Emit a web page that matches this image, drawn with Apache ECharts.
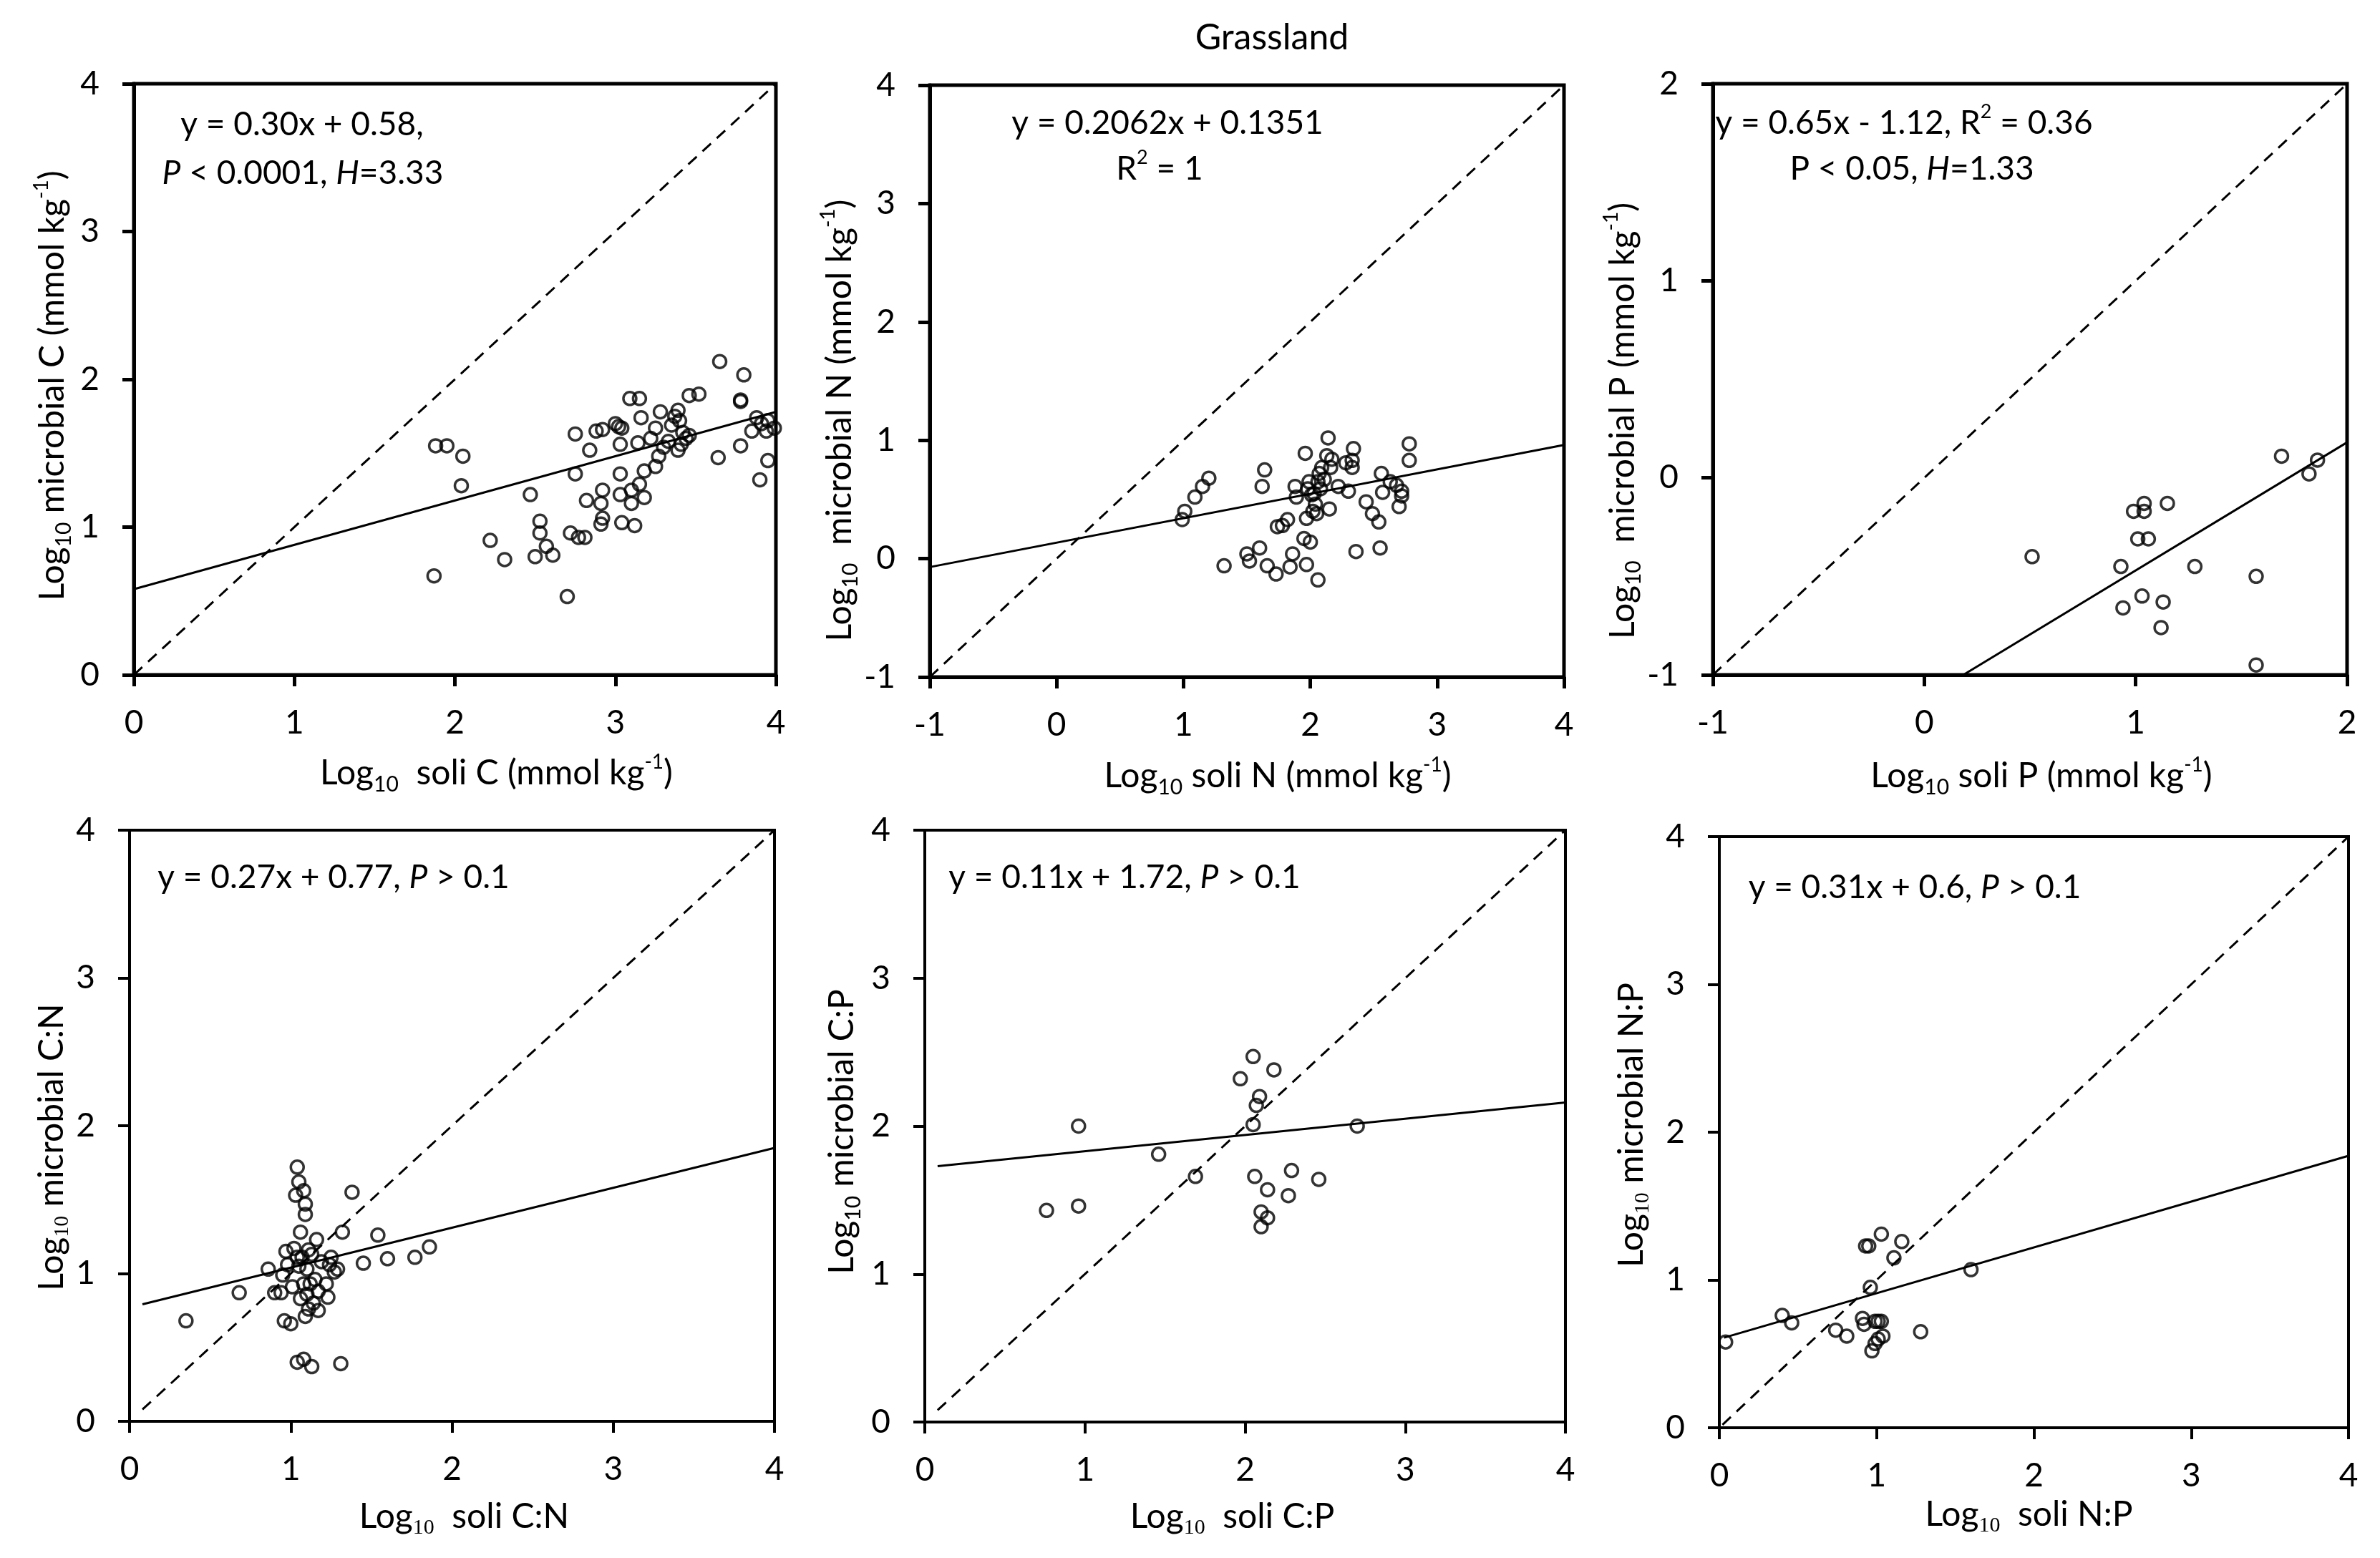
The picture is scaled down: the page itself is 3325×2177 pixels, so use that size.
<!DOCTYPE html>
<html><head><meta charset="utf-8">
<script src="https://cdn.jsdelivr.net/npm/echarts@6/dist/echarts.min.js"></script>
<style>html,body{margin:0;padding:0;background:#fff}#c{width:3325px;height:2177px}</style>
</head><body><div id="c"></div>
<script>
// ---------- data ----------
const soilC = [1.88,1.95,2.05,2.04,1.87,2.22,2.31,2.47,2.53,2.53,2.50,2.57,2.61,2.70,2.72,2.77,2.81,2.75,2.75,2.84,2.82,2.88,2.92,2.91,2.92,2.91,2.92,3.00,3.02,3.04,3.03,3.03,3.03,3.04,3.10,3.10,3.12,3.09,3.15,3.16,3.14,3.15,3.18,3.18,3.22,3.25,3.25,3.28,3.27,3.30,3.33,3.35,3.37,3.39,3.40,3.39,3.41,3.42,3.44,3.46,3.52,3.65,3.64,3.78,3.78,3.78,3.80,3.85,3.88,3.91,3.90,3.95,3.95,3.94,3.99,3.46];
const microbialC = [1.55,1.55,1.48,1.28,0.67,0.91,0.78,1.22,1.04,0.96,0.80,0.87,0.81,0.53,0.96,0.93,0.93,1.63,1.36,1.52,1.18,1.65,1.66,1.16,1.25,1.02,1.06,1.70,1.68,1.67,1.56,1.36,1.22,1.03,1.25,1.16,1.01,1.87,1.87,1.74,1.57,1.29,1.20,1.38,1.60,1.41,1.67,1.78,1.48,1.54,1.58,1.69,1.75,1.79,1.72,1.52,1.56,1.64,1.60,1.89,1.90,2.12,1.47,1.85,1.86,1.55,2.03,1.65,1.74,1.70,1.32,1.45,1.72,1.65,1.67,1.62];

const soilN = [0.99,1.01,1.09,1.15,1.20,1.32,1.50,1.52,1.60,1.64,1.62,1.66,1.73,1.74,1.78,1.82,1.84,1.86,1.88,1.89,1.95,1.96,1.97,1.97,1.98,1.99,2.00,2.01,2.02,2.03,2.04,2.06,2.05,2.06,2.07,2.08,2.09,2.11,2.13,2.14,2.15,2.16,2.17,2.22,2.28,2.30,2.33,2.34,2.33,2.36,2.44,2.49,2.54,2.55,2.56,2.57,2.63,2.68,2.70,2.72,2.78,2.78,2.72];
const microbialN = [0.33,0.40,0.52,0.61,0.68,-0.06,0.04,-0.02,0.09,0.75,0.61,-0.06,-0.13,0.27,0.28,0.33,-0.07,0.04,0.61,0.52,0.17,0.89,-0.05,0.34,0.59,0.65,0.14,0.54,0.40,0.55,0.46,-0.18,0.38,0.65,0.72,0.59,0.77,0.67,0.87,1.02,0.42,0.77,0.84,0.61,0.81,0.57,0.77,0.93,0.83,0.06,0.48,0.38,0.31,0.09,0.72,0.56,0.65,0.62,0.44,0.57,0.97,0.83,0.53];

const soilP = [0.51,0.93,0.94,0.99,1.04,1.04,1.01,1.06,1.03,1.12,1.13,1.15,1.28,1.57,1.57,1.69,1.82,1.86];
const microbialP = [-0.40,-0.45,-0.66,-0.17,-0.13,-0.17,-0.31,-0.31,-0.60,-0.76,-0.63,-0.13,-0.45,-0.50,-0.95,0.11,0.02,0.09];

const soilCN = [0.35,0.68,0.86,0.90,0.94,0.95,0.97,0.96,1.00,0.98,1.01,1.02,1.03,1.04,1.04,1.04,1.05,1.05,1.06,1.06,1.07,1.08,1.08,1.08,1.09,1.09,1.09,1.10,1.10,1.11,1.11,1.12,1.13,1.13,1.14,1.15,1.16,1.17,1.17,1.19,1.22,1.23,1.24,1.25,1.27,1.29,1.31,1.32,1.38,1.45,1.54,1.60,1.77,1.86];
const microbialCN = [0.68,0.87,1.03,0.87,0.87,0.99,1.15,0.68,0.66,1.06,0.91,1.17,1.53,1.72,0.40,1.11,1.62,1.05,1.28,0.83,1.11,0.42,0.93,1.56,1.40,1.47,0.71,0.86,1.03,1.16,0.76,0.93,0.37,1.13,0.80,0.96,1.23,0.75,0.88,1.08,0.93,0.84,1.06,1.11,1.01,1.03,0.39,1.28,1.55,1.07,1.26,1.10,1.11,1.18];

const soilCP = [0.76,0.96,0.96,1.46,1.69,1.97,2.05,2.18,2.09,2.07,2.05,2.06,2.14,2.10,2.14,2.10,2.27,2.29,2.46,2.70];
const microbialCP = [1.43,2.00,1.46,1.81,1.66,2.32,2.47,2.38,2.20,2.14,2.01,1.66,1.57,1.42,1.38,1.32,1.53,1.70,1.64,2.00];

const soilNP = [0.04,0.40,0.46,0.74,0.81,0.91,0.92,0.93,0.95,0.96,0.97,0.99,1.01,0.99,1.01,1.03,1.04,1.03,1.11,1.16,1.28,1.60];
const microbialNP = [0.58,0.76,0.71,0.66,0.62,0.74,0.70,1.23,1.23,0.95,0.52,0.72,0.72,0.57,0.60,0.72,0.62,1.31,1.15,1.26,0.65,1.07];

// regression lines (from the printed equations) and 1:1 lines
const fitSlope     = [0.30, 0.2062, 0.65, 0.27, 0.11, 0.31];
const fitIntercept = [0.58, 0.1351, -1.12, 0.77, 1.72, 0.6];
const fitStart     = [0, -1, -1, 0.08, 0.08, 0.03];
const diagStart    = [0, -1, -1, 0.08, 0.08, 0.02];

// axis ranges
const axisMin = [0, -1, -1, 0, 0, 0];
const axisMax = [4, 4, 2, 4, 4, 4];

// texts
const chartTitle = 'Grassland';
const xNames = [
  'Log{sub|10}  soli C (mmol kg{sup|-1})',
  'Log{sub|10} soli N (mmol kg{sup|-1})',
  'Log{sub|10} soli P (mmol kg{sup|-1})',
  'Log{subs|10}  soli C:N',
  'Log{subs|10}  soli C:P',
  'Log{subs|10}  soli N:P'
];
const yNames = [
  'Log{sub|10} microbial C (mmol kg{sup|-1})',
  'Log{sub|10}  microbial N (mmol kg{sup|-1})',
  'Log{sub|10}  microbial P (mmol kg{sup|-1})',
  'Log{subs|10} microbial C:N',
  'Log{sub|10} microbial C:P',
  'Log{subs|10} microbial N:P'
];
const annotations = [
  ['y = 0.30x + 0.58,', '{i|P} < 0.0001, {i|H}=3.33'],
  ['y = 0.2062x + 0.1351', 'R{sup|2} = 1'],
  ['y = 0.65x - 1.12, R{sup|2} = 0.36', 'P < 0.05, {i|H}=1.33'],
  ['y = 0.27x + 0.77, {i|P} > 0.1'],
  ['y = 0.11x + 1.72, {i|P} > 0.1'],
  ['y = 0.31x + 0.6, {i|P} > 0.1']
];

const xs = [soilC, soilN, soilP, soilCN, soilCP, soilNP];
const ys = [microbialC, microbialN, microbialP, microbialCN, microbialCP, microbialNP];

// ---------- layout ----------
const grids = [
  {left: 187, top: 117, right: 1084, bottom: 943},
  {left: 1299, top: 119, right: 2185, bottom: 946},
  {left: 2393, top: 117, right: 3279, bottom: 943},
  {left: 181, top: 1160, right: 1082, bottom: 1986},
  {left: 1292, top: 1160, right: 2187, bottom: 1987},
  {left: 2402, top: 1169, right: 3281, bottom: 1995}
];
const bw = [5, 5, 5, 4, 4, 4];
const xGap = [108, 109, 112, 104, 103, 92];
const xShift = [58, 43, 16, 17, -18, -7];
const yGap = [83, 82, 73, 77, 85, 92];
const yShift = [9, 55, 58, 30, 8, -10]; // positive = downward
const annPos = [
  [[422, 174], [423, 242]],
  [[1631, 172], [1620, 236]],
  [[2660, 172], [2671, 236]],
  [[466, 1226]],
  [[1571, 1226]],
  [[2675, 1240]]
];

const FONT = 'Lato, "Open Sans", "Noto Sans", sans-serif';
const SERIF = '"Liberation Serif", "DejaVu Serif", serif';
const FS = 48;
const AFS = 46;

function richAxis() {
  return {
    sub:  {fontFamily: FONT, fontSize: 30, lineHeight: 30, verticalAlign: 'bottom', color: '#000'},
    subs: {fontFamily: SERIF, fontSize: 30, lineHeight: 30, verticalAlign: 'bottom', color: '#000'},
    sup:  {fontFamily: FONT, fontSize: 28, lineHeight: 28, verticalAlign: 'top', color: '#000'}
  };
}
function richGraphic() {
  return {
    sub: {fontFamily: FONT, fontSize: 29, lineHeight: 29, verticalAlign: 'bottom', fill: '#000'},
    sup: {fontFamily: FONT, fontSize: 27, lineHeight: 27, verticalAlign: 'top', fill: '#000'},
    i:   {fontFamily: FONT, fontSize: AFS, lineHeight: 58, fontStyle: 'italic', fill: '#000'}
  };
}
function padShift(d) { return d >= 0 ? [0, 0, 0, 2 * d] : [0, -2 * d, 0, 0]; }
function padShiftY(d) { return d >= 0 ? [0, 2 * d, 0, 0] : [0, 0, 0, -2 * d]; }

const option = {
  backgroundColor: '#fff',
  animation: false,
  grid: [], xAxis: [], yAxis: [], series: [], graphic: []
};

grids.forEach((g, k) => {
  option.grid.push({
    left: g.left, top: g.top, width: g.right - g.left, height: g.bottom - g.top,
    show: true, borderColor: '#000', borderWidth: bw[k], backgroundColor: 'transparent',
    containLabel: false, outerBoundsMode: 'none'
  });
  const axisCommon = {
    gridIndex: k, type: 'value', min: axisMin[k], max: axisMax[k], interval: 1,
    splitLine: {show: false},
    axisLine: {show: true, onZero: false, lineStyle: {color: '#000', width: bw[k]}},
    axisTick: {show: true, inside: false, length: 16, lineStyle: {color: '#000', width: bw[k]}},
    axisLabel: {color: '#000', fontFamily: FONT, fontSize: 46}
  };
  option.xAxis.push(Object.assign({}, axisCommon, {
    position: 'bottom',
    axisLabel: Object.assign({}, axisCommon.axisLabel, {margin: 44}),
    name: xNames[k], nameLocation: 'middle', nameGap: xGap[k],
    nameTextStyle: {color: '#000', fontFamily: FONT, fontSize: FS, lineHeight: 60,
      padding: padShift(xShift[k]), rich: richAxis()}
  }));
  option.yAxis.push(Object.assign({}, axisCommon, {
    position: 'left',
    axisLabel: Object.assign({}, axisCommon.axisLabel, {margin: 48}),
    name: yNames[k], nameLocation: 'middle', nameGap: yGap[k], nameRotate: 90,
    nameTextStyle: {color: '#000', fontFamily: FONT, fontSize: FS, lineHeight: 60,
      padding: padShiftY(yShift[k]), rich: richAxis()}
  }));

  // 1:1 dashed line
  const d0 = diagStart[k], d1 = axisMax[k];
  option.series.push({
    type: 'line', xAxisIndex: k, yAxisIndex: k, showSymbol: false, silent: true,
    data: [[d0, d0], [d1, d1]],
    lineStyle: {color: '#000', width: 3, type: [16, 11]}, z: 2
  });
  // fitted regression line
  let f0 = fitStart[k];
  const fy0 = fitSlope[k] * f0 + fitIntercept[k];
  if (fy0 < axisMin[k]) f0 = (axisMin[k] - fitIntercept[k]) / fitSlope[k];
  const f1 = axisMax[k];
  option.series.push({
    type: 'line', xAxisIndex: k, yAxisIndex: k, showSymbol: false, silent: true,
    data: [[f0, fitSlope[k] * f0 + fitIntercept[k]], [f1, fitSlope[k] * f1 + fitIntercept[k]]],
    lineStyle: {color: '#000', width: 3}, z: 2
  });
  // observations
  option.series.push({
    type: 'scatter', xAxisIndex: k, yAxisIndex: k,
    data: xs[k].map((v, i) => [v, ys[k][i]]),
    symbol: 'circle', symbolSize: 18,
    itemStyle: {color: 'rgba(255,255,255,0)', borderColor: '#000', borderWidth: 3.5},
    z: 3
  });

  annotations[k].forEach((t, j) => {
    option.graphic.push({
      type: 'text', x: annPos[k][j][0], y: annPos[k][j][1], z: 10,
      style: {text: t, fill: '#000', fontFamily: FONT, fontSize: AFS, lineHeight: 58,
        align: 'center', verticalAlign: 'middle', rich: richGraphic()}
    });
  });
});

option.graphic.push({
  type: 'text', x: 1777, y: 53, z: 10,
  style: {text: chartTitle, fill: '#000', fontFamily: FONT, fontSize: 50,
    align: 'center', verticalAlign: 'middle'}
});

const chart = echarts.init(document.getElementById('c'), null, {renderer: 'canvas'});
chart.setOption(option);
</script>
</body></html>
